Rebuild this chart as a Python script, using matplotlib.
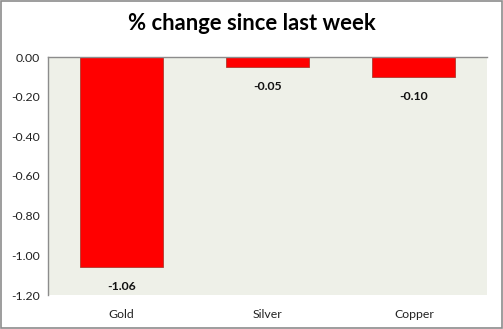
import matplotlib
matplotlib.use("Agg")
import matplotlib.pyplot as plt
from matplotlib.patches import Rectangle

categories = ["Gold", "Silver", "Copper"]
values = [-1.06, -0.05, -0.10]
yticks = [0.0, -0.2, -0.4, -0.6, -0.8, -1.0, -1.2]

plt.rcParams['font.family'] = ['Lato', 'DejaVu Sans']

fig = plt.figure(figsize=(5.03, 3.29), dpi=100)
fig.patch.set_facecolor('white')
fig.add_artist(Rectangle((0.001, 0.002), 0.997, 0.995, transform=fig.transFigure,
                         fill=False, edgecolor='#8c8c8c', linewidth=1.2))

ax = fig.add_axes([48/503, 1-295/329, (487-48)/503, (295-57)/329])
ax.set_facecolor('#EEF0E8')
x = list(range(len(categories)))
ax.bar(x, values, width=0.567, color='#FF0000', edgecolor='#B03A2E', linewidth=0.6, zorder=2)
ax.set_xlim(-0.5, len(categories) - 0.5)
ax.set_ylim(-1.2, 0.0)
ax.set_yticks(yticks)
ax.set_yticklabels([f"{t:.2f}" for t in yticks], fontsize=8.8, color='#222222')
ax.set_xticks(x)
ax.set_xticklabels(categories, fontsize=8.8, color='#222222')
ax.tick_params(axis='both', length=0, pad=6)
ax.tick_params(axis='x', pad=10)
for s in ['right', 'bottom']:
    ax.spines[s].set_visible(False)
for s in ['left', 'top']:
    ax.spines[s].set_color('#8c8c8c')
    ax.spines[s].set_linewidth(1.0)

for xi, v in zip(x, values):
    ax.annotate(f"{v:.2f}", (xi, v), xytext=(0, -10), textcoords='offset points',
                ha='center', va='top', fontsize=8.8, fontweight='bold', color='#111111')

fig.text(0.5, 1-24/329, "% change since last week", ha='center', va='center',
         fontsize=15.8, fontweight='bold', color='black')

fig.savefig("out.png", dpi=100)
